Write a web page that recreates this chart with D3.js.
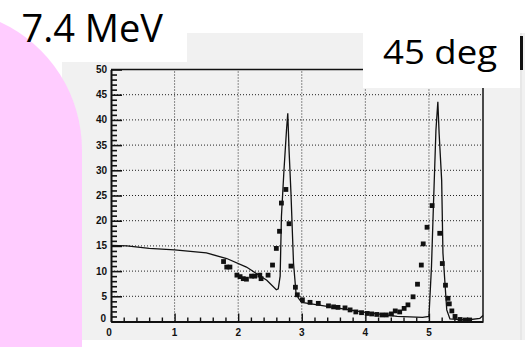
<!DOCTYPE html>
<html>
<head>
<meta charset="utf-8">
<script src="https://cdn.jsdelivr.net/npm/d3@7"></script>
<style>
  body { margin:0; background:#fff; }
  svg { display:block; }
  .tick-label { font-family: "Liberation Sans", Arial, sans-serif; font-size:10px; font-weight:bold; fill:#111; }
</style>
</head>
<body>
<svg id="chart" width="525" height="347"></svg>
<script>
// theory curve (solid line)
var curveX = [0, 0.25, 0.6, 1.0, 1.5, 1.82, 2.13, 2.45, 2.6, 2.63, 2.66, 2.68, 2.72, 2.76, 2.78, 2.8, 2.83, 2.87, 2.91, 2.95, 3.0, 3.5, 4.0, 4.5, 4.9, 5.0, 5.04, 5.07, 5.11, 5.14, 5.16, 5.2, 5.22, 5.28, 5.33, 5.6, 5.8, 5.85];
var curveY = [15.1, 15.0, 14.5, 14.2, 13.6, 12.5, 10.8, 8.2, 6.3, 6.5, 9.0, 20.8, 30, 38, 41.3, 34, 25.5, 11.6, 5.6, 4.6, 3.8, 2.8, 1.8, 1.0, 0.8, 1.0, 10.9, 22.8, 38, 43.6, 37.3, 28, 13.6, 2.3, 0.5, 0.3, 0.6, 1.2];

// measured points (squares)
var dataX = [1.77, 1.82, 1.87, 1.98, 2.03, 2.08, 2.13, 2.21, 2.26, 2.34, 2.36, 2.47, 2.54, 2.6, 2.65, 2.68, 2.75, 2.8, 2.83, 2.9, 2.93, 3.01, 3.13, 3.26, 3.42, 3.5, 3.57, 3.68, 3.76, 3.85, 3.94, 4.03, 4.1, 4.18, 4.26, 4.33, 4.41, 4.47, 4.54, 4.61, 4.67, 4.75, 4.82, 4.88, 4.91, 4.97, 5.05, 5.17, 5.21, 5.26, 5.3, 5.32, 5.36, 5.41, 5.49, 5.57, 5.64];
var dataY = [11.9, 10.8, 10.8, 9.2, 8.9, 8.5, 8.4, 9.0, 9.0, 9.2, 8.5, 9.2, 11.2, 14.5, 17.9, 23.5, 26.2, 19.4, 11.0, 6.8, 5.3, 4.3, 3.8, 3.6, 3.1, 2.9, 2.8, 2.7, 2.3, 1.9, 1.75, 1.6, 1.5, 1.4, 1.3, 1.3, 1.5, 2.1, 1.9, 2.6, 3.3, 4.9, 7.4, 11.2, 15.4, 18.7, 23.0, 17.5, 11.5, 7.2, 4.6, 3.5, 2.1, 1.0, 0.4, 0.3, 0.3];

var xTicks = [0, 1, 2, 3, 4, 5];
var yTicks = [0, 5, 10, 15, 20, 25, 30, 35, 40, 45, 50];
var energyLabel = "7.4 MeV";
var angleLabel = "45 deg";

var svg = d3.select("#chart");

var x = d3.scaleLinear().domain([0, 5.85]).range([111, 483]);
var y = d3.scaleLinear().domain([0, 50]).range([321.5, 69.5]);

// slide background
svg.append("rect").attr("x", 62).attr("y", 33).attr("width", 463).attr("height", 307).attr("fill", "#f1f1f1");
svg.append("line").attr("x1", 521).attr("x2", 521).attr("y1", 33).attr("y2", 340).attr("stroke", "#ddd");

// grid
var grid = svg.append("g").attr("stroke", "#222").attr("stroke-dasharray", "1,2").attr("stroke-width", 1);
grid.selectAll(".gx").data(xTicks.slice(1)).enter().append("line")
  .attr("x1", function(d){ return x(d); }).attr("x2", function(d){ return x(d); })
  .attr("y1", y(0)).attr("y2", y(50));
grid.selectAll(".gy").data(yTicks.slice(1, -1)).enter().append("line")
  .attr("x1", x(0)).attr("x2", x(5.85))
  .attr("y1", function(d){ return y(d); }).attr("y2", function(d){ return y(d); });

// frame
svg.append("line").attr("x1", x(0)).attr("x2", x(5.85)).attr("y1", y(50)).attr("y2", y(50)).attr("stroke", "#111").attr("stroke-width", 1.5);
svg.append("line").attr("x1", x(5.85)).attr("x2", x(5.85)).attr("y1", y(50)).attr("y2", y(0)).attr("stroke", "#111").attr("stroke-width", 1.5);

// y axis
var yAxis = d3.axisRight(y).tickValues(d3.range(0, 51, 1)).tickFormat("")
  .tickSizeInner(5).tickSizeOuter(0);
var gy = svg.append("g").attr("transform", "translate(" + x(0) + ",0)").call(yAxis);
gy.selectAll(".tick line").attr("x2", function(d){ return d % 5 === 0 ? 11 : 6; }).attr("stroke", "#111").attr("stroke-width", 1.6);
gy.select(".domain").attr("stroke", "#111").attr("stroke-width", 2);
svg.selectAll(".ylab").data(yTicks).enter().append("text").attr("class", "tick-label")
  .attr("x", function(d){ return d === 0 ? 106 : 107; })
  .attr("y", function(d){ return d === 0 ? y(d) : y(d) + 3.5; })
  .attr("text-anchor", "end")
  .text(function(d){ return d; });

// x axis
var xAxis = d3.axisTop(x).tickValues(d3.range(0, 29).map(function(i){ return i * 0.2; })).tickFormat("")
  .tickSizeInner(4).tickSizeOuter(0);
var gx = svg.append("g").attr("transform", "translate(0," + y(0) + ")").call(xAxis);
gx.selectAll(".tick line").attr("y2", function(d){ return Math.abs(d - Math.round(d)) < 1e-6 ? -8 : -4; }).attr("stroke", "#111").attr("stroke-width", 1.4);
gx.select(".domain").attr("stroke", "#111").attr("stroke-width", 2);
svg.selectAll(".xlab").data(xTicks).enter().append("text").attr("class", "tick-label")
  .attr("x", function(d){ return x(d) - (d === 0 ? 2 : 0); })
  .attr("y", 335.5)
  .attr("text-anchor", "middle")
  .text(function(d){ return d; });

// curve
var line = d3.line().x(function(d){ return x(d[0]); }).y(function(d){ return y(d[1]); });
svg.append("path").datum(d3.zip(curveX, curveY))
  .attr("d", line).attr("fill", "none").attr("stroke", "#111").attr("stroke-width", 1.3);

// points
svg.selectAll(".pt").data(d3.zip(dataX, dataY)).enter().append("rect")
  .attr("x", function(d){ return x(d[0]) - 2.4; })
  .attr("y", function(d){ return y(d[1]) - 2.4; })
  .attr("width", 4.8).attr("height", 4.8).attr("fill", "#111");

// label boxes
svg.append("rect").attr("x", 0).attr("y", 0).attr("width", 187).attr("height", 62).attr("fill", "#fff");
svg.append("rect").attr("x", 363).attr("y", 33).attr("width", 157).attr("height", 55).attr("fill", "#fff");

// pink shape
svg.append("path")
  .attr("d", "M0,22 A141,141 0 0 1 82,150 L82,347 L0,347 Z")
  .attr("fill", "#ffccff");

svg.append("text").attr("x", 163).attr("y", 42).attr("text-anchor", "end")
  .attr("font-family", "'Open Sans', sans-serif").attr("font-size", 38).attr("fill", "#000")
  .text(energyLabel);
svg.append("text").attr("x", 383).attr("y", 64)
  .attr("font-family", "'Open Sans', sans-serif").attr("font-size", 33).attr("fill", "#000")
  .attr("textLength", 114).attr("lengthAdjust", "spacingAndGlyphs")
  .text(angleLabel);
svg.append("rect").attr("x", 520).attr("y", 36).attr("width", 3).attr("height", 34).attr("fill", "#111");
</script>
</body>
</html>
